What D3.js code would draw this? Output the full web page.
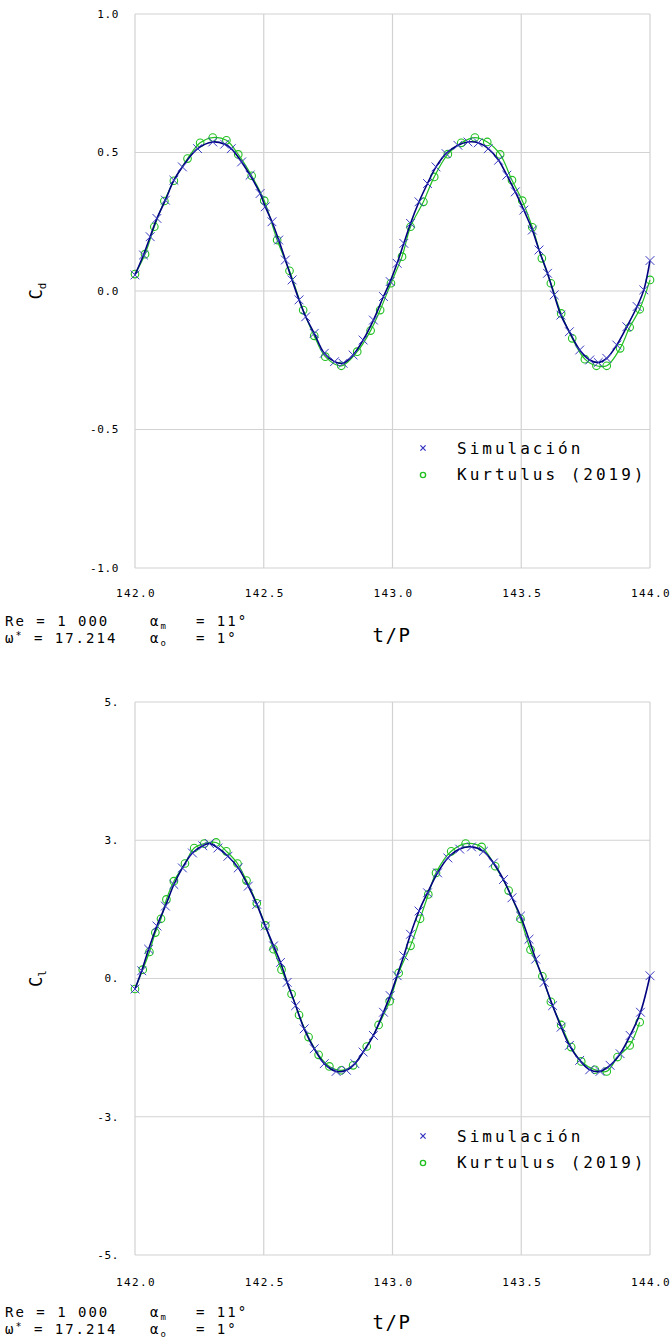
<!DOCTYPE html>
<html><head><meta charset="utf-8">
<script src="https://cdn.jsdelivr.net/npm/d3@7"></script>
<style>
body{margin:0;background:#fff;}
svg{display:block;}
text{font-family:"DejaVu Sans Mono",monospace;fill:#000;}
</style>
</head><body>
<svg id="chart" width="672" height="1344"></svg>
<script>
// ---------- data ----------
const xTicks = [142.0, 142.5, 143.0, 143.5, 144.0];
const xTickLabels = ["142.0", "142.5", "143.0", "143.5", "144.0"];
const cdTicks = [1.0, 0.5, 0.0, -0.5, -1.0];
const cdTickLabels = ["1.0", "0.5", "0.0", "-0.5", "-1.0"];
const clTicks = [5, 2.5, 0, -2.5, -5];
const clTickLabels = ["5.", "3.", "0.", "-3.", "-5."];
const legendLabels = ["Simulación", "Kurtulus (2019)"];

// Simulation, drag coefficient
const simTcd = [142.000,142.033,142.059,142.085,142.118,142.151,142.184,142.243,142.302,142.348,142.374,142.414,142.447,142.486,142.506,142.532,142.558,142.584,142.610,142.637,142.663,142.696,142.735,142.775,142.808,142.847,142.886,142.926,142.965,142.991,143.018,143.044,143.070,143.103,143.136,143.169,143.208,143.254,143.293,143.333,143.372,143.412,143.444,143.477,143.510,143.543,143.569,143.602,143.628,143.654,143.687,143.727,143.766,143.799,143.832,143.871,143.910,143.950,143.976,144.000];
const simCd = [0.058,0.130,0.196,0.262,0.328,0.400,0.448,0.514,0.538,0.530,0.514,0.466,0.418,0.352,0.304,0.250,0.184,0.112,0.040,-0.032,-0.093,-0.153,-0.225,-0.255,-0.261,-0.231,-0.177,-0.105,-0.020,0.034,0.100,0.172,0.244,0.322,0.388,0.448,0.496,0.526,0.538,0.535,0.514,0.472,0.418,0.358,0.292,0.220,0.148,0.064,-0.014,-0.087,-0.147,-0.213,-0.249,-0.258,-0.243,-0.195,-0.129,-0.056,0.004,0.110];

// Kurtulus (2019), drag coefficient
const kurTcd = [142.000,142.039,142.075,142.114,142.151,142.204,142.253,142.302,142.355,142.401,142.453,142.502,142.552,142.600,142.653,142.696,142.739,142.801,142.863,142.915,142.952,142.994,143.037,143.070,143.120,143.162,143.215,143.267,143.320,143.368,143.418,143.464,143.504,143.543,143.580,143.615,143.655,143.698,143.747,143.792,143.832,143.884,143.921,143.960,144.000];
const kurCd = [0.061,0.133,0.232,0.325,0.398,0.478,0.535,0.554,0.544,0.493,0.416,0.326,0.184,0.073,-0.069,-0.162,-0.237,-0.270,-0.219,-0.143,-0.069,0.028,0.124,0.232,0.322,0.412,0.494,0.535,0.554,0.538,0.493,0.400,0.326,0.230,0.118,0.028,-0.081,-0.171,-0.246,-0.270,-0.270,-0.207,-0.131,-0.066,0.040];

// Simulation, lift coefficient
const simTcl = [142.000,142.026,142.053,142.085,142.118,142.151,142.184,142.223,142.263,142.289,142.322,142.361,142.401,142.440,142.473,142.506,142.538,142.565,142.591,142.624,142.657,142.696,142.735,142.781,142.821,142.854,142.886,142.926,142.965,142.991,143.018,143.044,143.070,143.103,143.136,143.175,143.215,143.261,143.307,143.353,143.392,143.431,143.464,143.497,143.530,143.556,143.589,143.622,143.655,143.687,143.727,143.766,143.806,143.845,143.884,143.923,143.963,144.000];
const simCl = [-0.19,0.14,0.53,0.95,1.31,1.70,2.00,2.27,2.40,2.44,2.36,2.21,2.00,1.67,1.34,0.95,0.59,0.29,-0.07,-0.49,-0.91,-1.27,-1.54,-1.68,-1.66,-1.54,-1.33,-1.03,-0.61,-0.31,0.05,0.41,0.80,1.22,1.55,1.91,2.18,2.34,2.38,2.30,2.09,1.79,1.46,1.13,0.71,0.35,-0.07,-0.49,-0.88,-1.21,-1.48,-1.65,-1.68,-1.57,-1.36,-1.03,-0.61,0.05];

// Kurtulus (2019), lift coefficient
const kurTcl = [142.000,142.030,142.056,142.079,142.101,142.122,142.151,142.194,142.230,142.269,142.315,142.355,142.398,142.433,142.473,142.506,142.538,142.569,142.608,142.637,142.674,142.713,142.755,142.801,142.847,142.900,142.946,142.989,143.024,143.070,143.107,143.139,143.169,143.228,143.284,143.346,143.399,143.451,143.497,143.536,143.582,143.615,143.655,143.694,143.733,143.786,143.832,143.874,143.921,143.960];
const kurCl = [-0.19,0.16,0.48,0.83,1.08,1.43,1.76,2.08,2.36,2.44,2.46,2.30,2.08,1.77,1.36,0.96,0.53,0.16,-0.28,-0.66,-1.06,-1.38,-1.59,-1.66,-1.57,-1.23,-0.84,-0.41,0.10,0.59,1.08,1.52,1.91,2.30,2.44,2.38,2.03,1.59,1.08,0.52,0.04,-0.42,-0.84,-1.24,-1.50,-1.65,-1.68,-1.42,-1.21,-0.79];

// ---------- drawing ----------
const svg = d3.select("#chart");
const GRID = "#d2d2d2";
const SIM_LINE = "#000080";
const SIM_MARK = "#3a3ac4";
const KUR = "#22c022";

function drawPanel(cfg) {
  const g = svg.append("g");
  const x = d3.scaleLinear().domain([xTicks[0], xTicks[xTicks.length - 1]]).range([135, 650]);
  const y = d3.scaleLinear().domain(cfg.yDomain).range([cfg.bottom, cfg.top]);

  // grid + frame
  g.selectAll(".vg").data(xTicks).enter().append("line")
    .attr("x1", d => x(d)).attr("x2", d => x(d))
    .attr("y1", cfg.top).attr("y2", cfg.bottom)
    .attr("stroke", GRID).attr("stroke-width", 1.2);
  g.selectAll(".hg").data(cfg.yTicks).enter().append("line")
    .attr("x1", 135).attr("x2", 650)
    .attr("y1", d => y(d)).attr("y2", d => y(d))
    .attr("stroke", GRID).attr("stroke-width", 1.2);

  // y tick labels
  g.selectAll(".yl").data(cfg.yTicks).enter().append("text")
    .attr("x", 119).attr("y", d => y(d)).attr("dy", "0.35em")
    .attr("text-anchor", "end").attr("font-size", 11).attr("letter-spacing", 0.6)
    .text((d, i) => cfg.yLabels[i]);

  // x tick labels
  g.selectAll(".xl").data(xTicks).enter().append("text")
    .attr("x", d => x(d) + 1).attr("y", cfg.bottom + cfg.xLabelOff).attr("dy", "0.35em")
    .attr("text-anchor", "middle").attr("font-size", 11).attr("letter-spacing", 1.4)
    .text((d, i) => xTickLabels[i]);

  // axis titles
  g.append("text").attr("x", 392).attr("y", cfg.bottom + 67).attr("dy", "0.35em")
    .attr("text-anchor", "middle").attr("font-size", 19).attr("letter-spacing", 1.5)
    .attr("font-weight", 300)
    .text("t/P");
  const yt = g.append("text")
    .attr("transform", `translate(42,${(cfg.top + cfg.bottom) / 2}) rotate(-90)`)
    .attr("text-anchor", "middle").attr("font-size", 17);
  yt.append("tspan").text("C");
  yt.append("tspan").attr("font-size", 11).attr("dy", 4).text(cfg.ySub);

  // annotations
  const a1 = g.append("text").attr("x", 5).attr("y", cfg.bottom + cfg.annOff).attr("dy", "0.35em")
    .attr("font-size", 14).attr("letter-spacing", 2);
  a1.append("tspan").text("Re = 1 000");
  const a2 = g.append("text").attr("x", 5).attr("y", cfg.bottom + cfg.annOff + 17).attr("dy", "0.35em")
    .attr("font-size", 14).attr("letter-spacing", 2);
  a2.append("tspan").text("ω");
  a2.append("tspan").attr("font-size", 10).attr("dy", -4).text("*");
  a2.append("tspan").attr("dy", 4).text(" = 17.214");
  const b1 = g.append("text").attr("x", 150).attr("y", cfg.bottom + cfg.annOff).attr("dy", "0.35em")
    .attr("font-size", 14).attr("letter-spacing", 2);
  b1.append("tspan").text("α");
  b1.append("tspan").attr("font-size", 9).attr("dy", 3).text("m");
  b1.append("tspan").attr("x", 196).attr("dy", -3).text("= 11°");
  const b2 = g.append("text").attr("x", 150).attr("y", cfg.bottom + cfg.annOff + 17).attr("dy", "0.35em")
    .attr("font-size", 14).attr("letter-spacing", 2);
  b2.append("tspan").text("α");
  b2.append("tspan").attr("font-size", 9).attr("dy", 3).text("o");
  b2.append("tspan").attr("x", 196).attr("dy", -3).text("= 1°");

  // series data
  const kur = cfg.kurT.map((t, i) => [t, cfg.kurV[i]]);
  const sim = cfg.simT.map((t, i) => [t, cfg.simV[i]]);
  const line = d3.line().x(d => x(d[0])).y(d => y(d[1])).curve(d3.curveCatmullRom.alpha(0.5));

  // Kurtulus series
  g.append("path").datum(kur).attr("d", line).attr("fill", "none")
    .attr("stroke", KUR).attr("stroke-width", 1.2);
  g.selectAll(".kc").data(kur).enter().append("circle")
    .attr("cx", d => x(d[0])).attr("cy", d => y(d[1])).attr("r", 3.8)
    .attr("fill", "none").attr("stroke", KUR).attr("stroke-width", 1.1);

  // Simulation series
  g.append("path").datum(sim).attr("d", line).attr("fill", "none")
    .attr("stroke", SIM_LINE).attr("stroke-width", 1.6);
  const s = 4.4;
  g.selectAll(".sx").data(sim).enter().append("path")
    .attr("d", d => {
      const cx = x(d[0]), cy = y(d[1]);
      return `M${cx - s},${cy - s}L${cx + s},${cy + s}M${cx - s},${cy + s}L${cx + s},${cy - s}`;
    })
    .attr("stroke", SIM_MARK).attr("stroke-width", 1).attr("fill", "none");

  // legend
  const ly0 = cfg.top + 434, ly1 = cfg.top + 460;
  const lx = 423, ls = 2.6;
  g.append("path")
    .attr("d", `M${lx - ls},${ly0 - ls}L${lx + ls},${ly0 + ls}M${lx - ls},${ly0 + ls}L${lx + ls},${ly0 - ls}`)
    .attr("stroke", "#3030c0").attr("stroke-width", 1.2);
  g.append("circle").attr("cx", lx).attr("cy", ly1 + 1).attr("r", 2.6)
    .attr("fill", "none").attr("stroke", KUR).attr("stroke-width", 1.4);
  g.selectAll(".lt").data(legendLabels).enter().append("text")
    .attr("x", 457).attr("y", (d, i) => i === 0 ? ly0 : ly1).attr("dy", "0.35em")
    .attr("font-size", 16).attr("letter-spacing", 3)
    .text(d => d);
}

drawPanel({
  top: 14, bottom: 568, yDomain: [-1, 1], yTicks: cdTicks, yLabels: cdTickLabels, ySub: "d",
  xLabelOff: 25, annOff: 53,
  simT: simTcd, simV: simCd, kurT: kurTcd, kurV: kurCd
});
drawPanel({
  top: 702, bottom: 1255, yDomain: [-5, 5], yTicks: clTicks, yLabels: clTickLabels, ySub: "l",
  xLabelOff: 27, annOff: 57,
  simT: simTcl, simV: simCl, kurT: kurTcl, kurV: kurCl
});
</script>
</body></html>
